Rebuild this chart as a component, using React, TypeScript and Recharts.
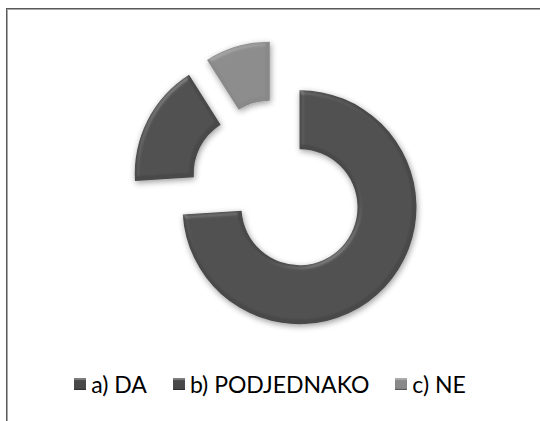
import { PieChart, Pie, Cell, Legend, Sector } from "recharts";

const categories = ["a) DA", "b) PODJEDNAKO", "c) NE"];
const values = [74, 17, 9];
const colors = ["#484848", "#484848", "#898989"];

const EXPLODE = 29.5;

const data = categories.map((name, i) => ({ name, value: values[i] }));

function ExplodedSector(props: any) {
  const { cx, cy, midAngle, innerRadius, outerRadius, startAngle, endAngle, fill } = props;
  const rad = Math.PI / 180;
  const dx = EXPLODE * Math.cos(-midAngle * rad);
  const dy = EXPLODE * Math.sin(-midAngle * rad);
  return (
    <Sector
      cx={cx + dx}
      cy={cy + dy}
      innerRadius={innerRadius}
      outerRadius={outerRadius}
      startAngle={startAngle}
      endAngle={endAngle}
      fill={fill}
      stroke="none"
      filter="url(#bevel)"
    />
  );
}

function LegendContent() {
  return (
    <div style={{ display: "flex", justifyContent: "center", fontFamily: "Lato, sans-serif", fontSize: 23, color: "#000", lineHeight: "26px" }}>
      {categories.map((name, i) => (
        <span key={name} style={{ display: "inline-flex", alignItems: "center", marginRight: i < categories.length - 1 ? 26 : 0 }}>
          <span
            style={{
              display: "inline-block",
              width: 12,
              height: 12,
              marginRight: 5,
              background: colors[i],
              boxShadow: "inset 0 2px 1px rgba(255,255,255,0.3), inset 0 -1px 1px rgba(0,0,0,0.4)",
            }}
          />
          {name}
        </span>
      ))}
    </div>
  );
}

export default function App() {
  return (
    <div style={{ position: "fixed", left: 0, top: 0, width: 540, height: 421, overflow: "hidden", background: "#fff" }}>
      <div
        style={{
          position: "absolute",
          left: 6,
          top: 8,
          width: 600,
          height: 500,
          border: "1px solid #5a5a5a",
          boxShadow: "inset 1px 1px 0 #a8a8a8",
        }}
      />
      <div style={{ position: "absolute", left: 0, top: 0 }}>
        <PieChart width={540} height={421}>
          <defs>
            <filter id="bevel" x="-20%" y="-20%" width="140%" height="140%">
              <feGaussianBlur in="SourceAlpha" stdDeviation="3" result="blur" />
              <feOffset in="blur" dx="1" dy="2" result="off" />
              <feComponentTransfer in="off" result="shadow">
                <feFuncA type="linear" slope="0.4" />
              </feComponentTransfer>
              <feGaussianBlur in="SourceAlpha" stdDeviation="2" result="blur2" />
              <feSpecularLighting in="blur2" surfaceScale="2" specularConstant="0.5" specularExponent="25" lightingColor="#ffffff" result="spec">
                <feDistantLight azimuth="235" elevation="45" />
              </feSpecularLighting>
              <feComposite in="spec" in2="SourceAlpha" operator="in" result="specIn" />
              <feComposite in="SourceGraphic" in2="specIn" operator="arithmetic" k1="0" k2="1" k3="0.25" k4="0" result="lit" />
              <feMerge>
                <feMergeNode in="shadow" />
                <feMergeNode in="lit" />
              </feMerge>
            </filter>
          </defs>
          <Pie
            data={data}
            dataKey="value"
            nameKey="name"
            cx={273}
            cy={182}
            innerRadius={58}
            outerRadius={117}
            startAngle={90}
            endAngle={-270}
            paddingAngle={0}
            stroke="none"
            shape={ExplodedSector}
            isAnimationActive={false}
          >
            {data.map((d, i) => (
              <Cell key={d.name} fill={colors[i]} />
            ))}
          </Pie>
          <Legend content={<LegendContent />} wrapperStyle={{ position: "absolute", top: 371, left: 0, width: 540 }} />
        </PieChart>
      </div>
    </div>
  );
}
